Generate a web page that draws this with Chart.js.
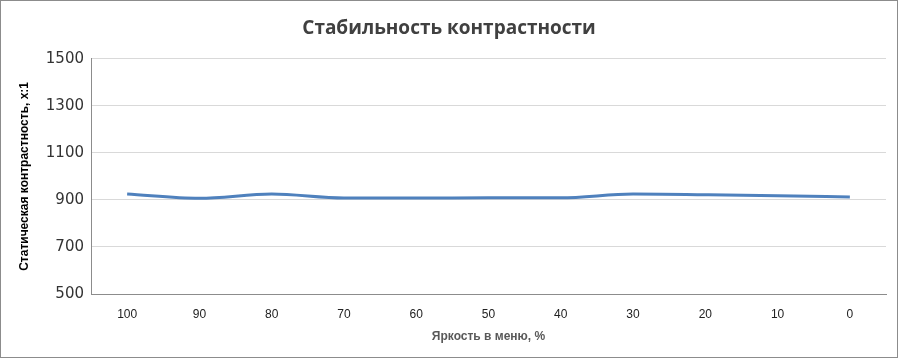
<!DOCTYPE html>
<html><head><meta charset="utf-8">
<script src="https://cdn.jsdelivr.net/npm/chart.js@4.4.1/dist/chart.umd.min.js"></script>
<style>
html,body{margin:0;padding:0;background:#fff;}
#wrap{position:absolute;left:0;top:0;width:896px;height:356px;border:1px solid #8c8c8c;}
canvas{display:block;}
</style></head><body>
<div id="wrap"><canvas id="c" width="896" height="356"></canvas></div>
<script>
const categories = ["100","90","80","70","60","50","40","30","20","10","0"];
const contrast = [925, 907, 925, 908, 908, 909, 909, 925, 922, 918, 912];
const yTicks = [500, 700, 900, 1100, 1300, 1500];

new Chart(document.getElementById('c'), {
  type: 'line',
  data: {
    labels: categories,
    datasets: [{
      data: contrast,
      borderColor: '#4F81BD',
      borderWidth: 3,
      pointRadius: 0,
      tension: 0.4,
      cubicInterpolationMode: 'monotone',
      fill: false
    }]
  },
  options: {
    responsive: false,
    animation: false,
    devicePixelRatio: 1,
    layout: { padding: 0 },
    plugins: {
      legend: { display: false },
      tooltip: { enabled: false },
      title: {
        display: true,
        text: 'Стабильность контрастности',
        color: '#404040',
        font: { family: 'Open Sans', size: 19, weight: 'bold' },
        padding: { top: 16, bottom: 19 }
      }
    },
    scales: {
      x: {
        offset: true,
        grid: { display: false, drawTicks: false },
        border: { display: true, color: '#8c8c8c', width: 1 },
        ticks: { color: '#222', font: { family: 'Liberation Sans', size: 12 }, padding: 13, maxRotation: 0 },
        title: {
          display: true, text: 'Яркость в меню, %', color: '#595959',
          font: { family: 'Liberation Sans', size: 12, weight: 'bold' },
          padding: { top: 8, bottom: 13 }
        },
        afterFit: s => { s.height = 63; }
      },
      y: {
        min: 500, max: 1500,
        afterBuildTicks: s => { s.ticks = yTicks.map(v => ({ value: v })); },
        grid: { color: '#d9d9d9', drawTicks: false },
        border: { display: true, color: '#8c8c8c', width: 1 },
        ticks: { color: '#333', font: { family: 'DejaVu Sans', size: 15 }, padding: 7, callback: v => String(v) },
        title: {
          display: true, text: 'Статическая контрастность, x:1', color: '#000',
          font: { family: 'Liberation Sans', size: 12, weight: 'bold' },
          padding: { top: 16, bottom: 0 }
        },
        afterFit: s => { s.width = 90; }
      },
      yRightSpace: {
        position: 'right',
        display: true,
        grid: { display: false, drawTicks: false },
        border: { display: false },
        ticks: { display: false },
        afterFit: s => { s.width = 11; }
      }
    }
  }
});
</script>
</body></html>
